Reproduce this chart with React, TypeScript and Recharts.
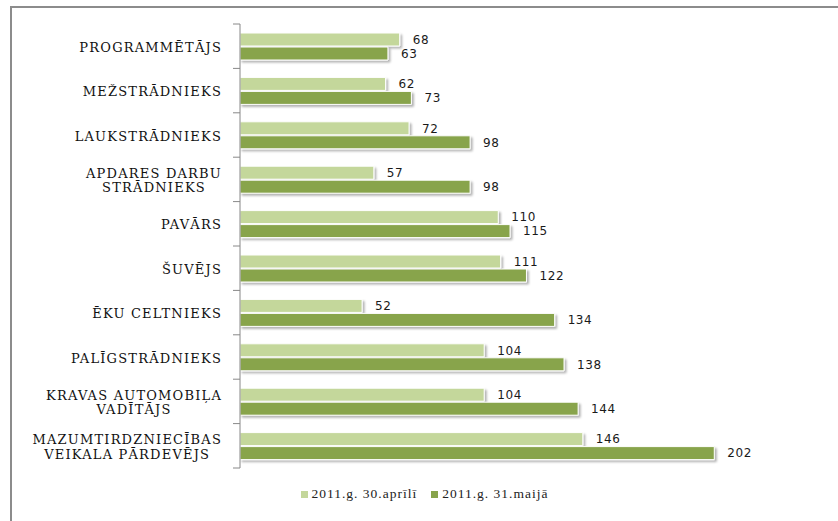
import React from 'react'
import { BarChart, Bar, XAxis, YAxis, LabelList, Legend, Rectangle } from 'recharts'

const professions = [
  'PROGRAMMĒTĀJS',
  'MEŽSTRĀDNIEKS',
  'LAUKSTRĀDNIEKS',
  'APDARES DARBU\nSTRĀDNIEKS',
  'PAVĀRS',
  'ŠUVĒJS',
  'ĒKU CELTNIEKS',
  'PALĪGSTRĀDNIEKS',
  'KRAVAS AUTOMOBIĻA\nVADĪTĀJS',
  'MAZUMTIRDZNIECĪBAS\nVEIKALA PĀRDEVĒJS',
]
const april = [68, 62, 72, 57, 110, 111, 52, 104, 104, 146]
const may = [63, 73, 98, 98, 115, 122, 134, 138, 144, 202]
const seriesNames = ['2011.g. 30.aprīlī', '2011.g. 31.maijā']

const LIGHT = '#c4d79b'
const DARK = '#88a44c'
const W = 838
const H = 521
const AXIS_X = 240
const LABEL_FONT = 'DejaVu Serif'
const LABEL_SIZE = 13
const LABEL_SPACING = 1.2

const data = professions.map((name, i) => ({ name, april: april[i], may: may[i] }))

let ctx: CanvasRenderingContext2D | null = null
function textWidth(s: string) {
  if (!ctx) ctx = document.createElement('canvas').getContext('2d')
  if (!ctx) return s.length * 10
  ctx.font = `${LABEL_SIZE}px "${LABEL_FONT}"`
  return ctx.measureText(s).width + LABEL_SPACING * s.length
}

function CategoryTick(props: any) {
  const { y, payload, index } = props
  const half = payload.offset || 22.2
  const lines: string[] = String(payload.value).split('\n')
  const right = AXIS_X - 18
  const maxW = Math.max(...lines.map(textWidth))
  const lh = 14.5
  const startY = y + 1 - ((lines.length - 1) * lh) / 2
  return (
    <g>
      <line x1={AXIS_X - 7} x2={AXIS_X} y1={y - half} y2={y - half} stroke="#888" />
      {index === professions.length - 1 && (
        <line x1={AXIS_X - 7} x2={AXIS_X} y1={y + half} y2={y + half} stroke="#888" />
      )}
      {lines.map((l, i) => (
        <text
          key={i}
          x={lines.length > 1 ? right - maxW / 2 : right}
          y={startY + i * lh}
          dy="0.36em"
          textAnchor={lines.length > 1 ? 'middle' : 'end'}
          fontFamily={LABEL_FONT}
          fontSize={LABEL_SIZE}
          letterSpacing={LABEL_SPACING}
          fill="#111"
        >
          {l}
        </text>
      ))}
    </g>
  )
}

const ShadowBar = (props: any) => <Rectangle {...props} filter="url(#barShadow)" />

function LegendContent() {
  const colors = [LIGHT, DARK]
  return (
    <div style={{ height: 20, display: 'flex', justifyContent: 'center', alignItems: 'center', paddingLeft: 26 }}>
      {seriesNames.map((n, i) => (
        <div key={n} style={{ display: 'flex', alignItems: 'center', marginRight: 14 }}>
          <span style={{ width: 7, height: 7, background: colors[i], marginRight: 4, display: 'inline-block' }} />
          <span
            style={{
              fontFamily: 'Liberation Serif',
              fontSize: 13.5,
              letterSpacing: 1,
              color: '#222',
            }}
          >
            {n}
          </span>
        </div>
      ))}
    </div>
  )
}

export default function App() {
  return (
    <div style={{ position: 'absolute', left: 0, top: 0, width: W, height: H, overflow: 'hidden', background: '#fff' }}>
      <svg width={0} height={0} style={{ position: 'absolute' }}>
        <defs>
          <filter id="barShadow" x="-5%" y="-30%" width="115%" height="180%">
            <feDropShadow dx="2" dy="2" stdDeviation="1" floodColor="#000" floodOpacity="0.3" />
          </filter>
        </defs>
      </svg>
      <div
        style={{
          position: 'absolute',
          left: 10,
          top: 6,
          width: 900,
          height: 600,
          borderTop: '2px solid #8c8c8c',
          borderLeft: '2px solid #8c8c8c',
        }}
      />
      <div style={{ position: 'absolute', left: 0, top: 0 }}>
        <BarChart
          width={W}
          height={H}
          data={data}
          layout="vertical"
          margin={{ top: 24, right: 11, left: 10, bottom: 33 }}
          barSize={13}
          barGap={1}
        >
          <XAxis type="number" hide domain={[0, 250]} />
          <YAxis
            type="category"
            dataKey="name"
            width={230}
            tickLine={false}
            axisLine={{ stroke: '#888' }}
            tick={<CategoryTick />}
            interval={0}
          />
          <Legend verticalAlign="bottom" wrapperStyle={{ bottom: 17 }} content={<LegendContent />} />
          <Bar dataKey="april" name={seriesNames[0]} fill={LIGHT} stroke="#fff" strokeWidth={1} shape={ShadowBar} isAnimationActive={false}>
            <LabelList dataKey="april" position="right" offset={13} fill="#1a1a1a" fontSize={12} fontFamily="DejaVu Sans" letterSpacing={0.6} />
          </Bar>
          <Bar dataKey="may" name={seriesNames[1]} fill={DARK} stroke="#fff" strokeWidth={1} shape={ShadowBar} isAnimationActive={false}>
            <LabelList dataKey="may" position="right" offset={13} fill="#1a1a1a" fontSize={12} fontFamily="DejaVu Sans" letterSpacing={0.6} />
          </Bar>
        </BarChart>
      </div>
    </div>
  )
}
